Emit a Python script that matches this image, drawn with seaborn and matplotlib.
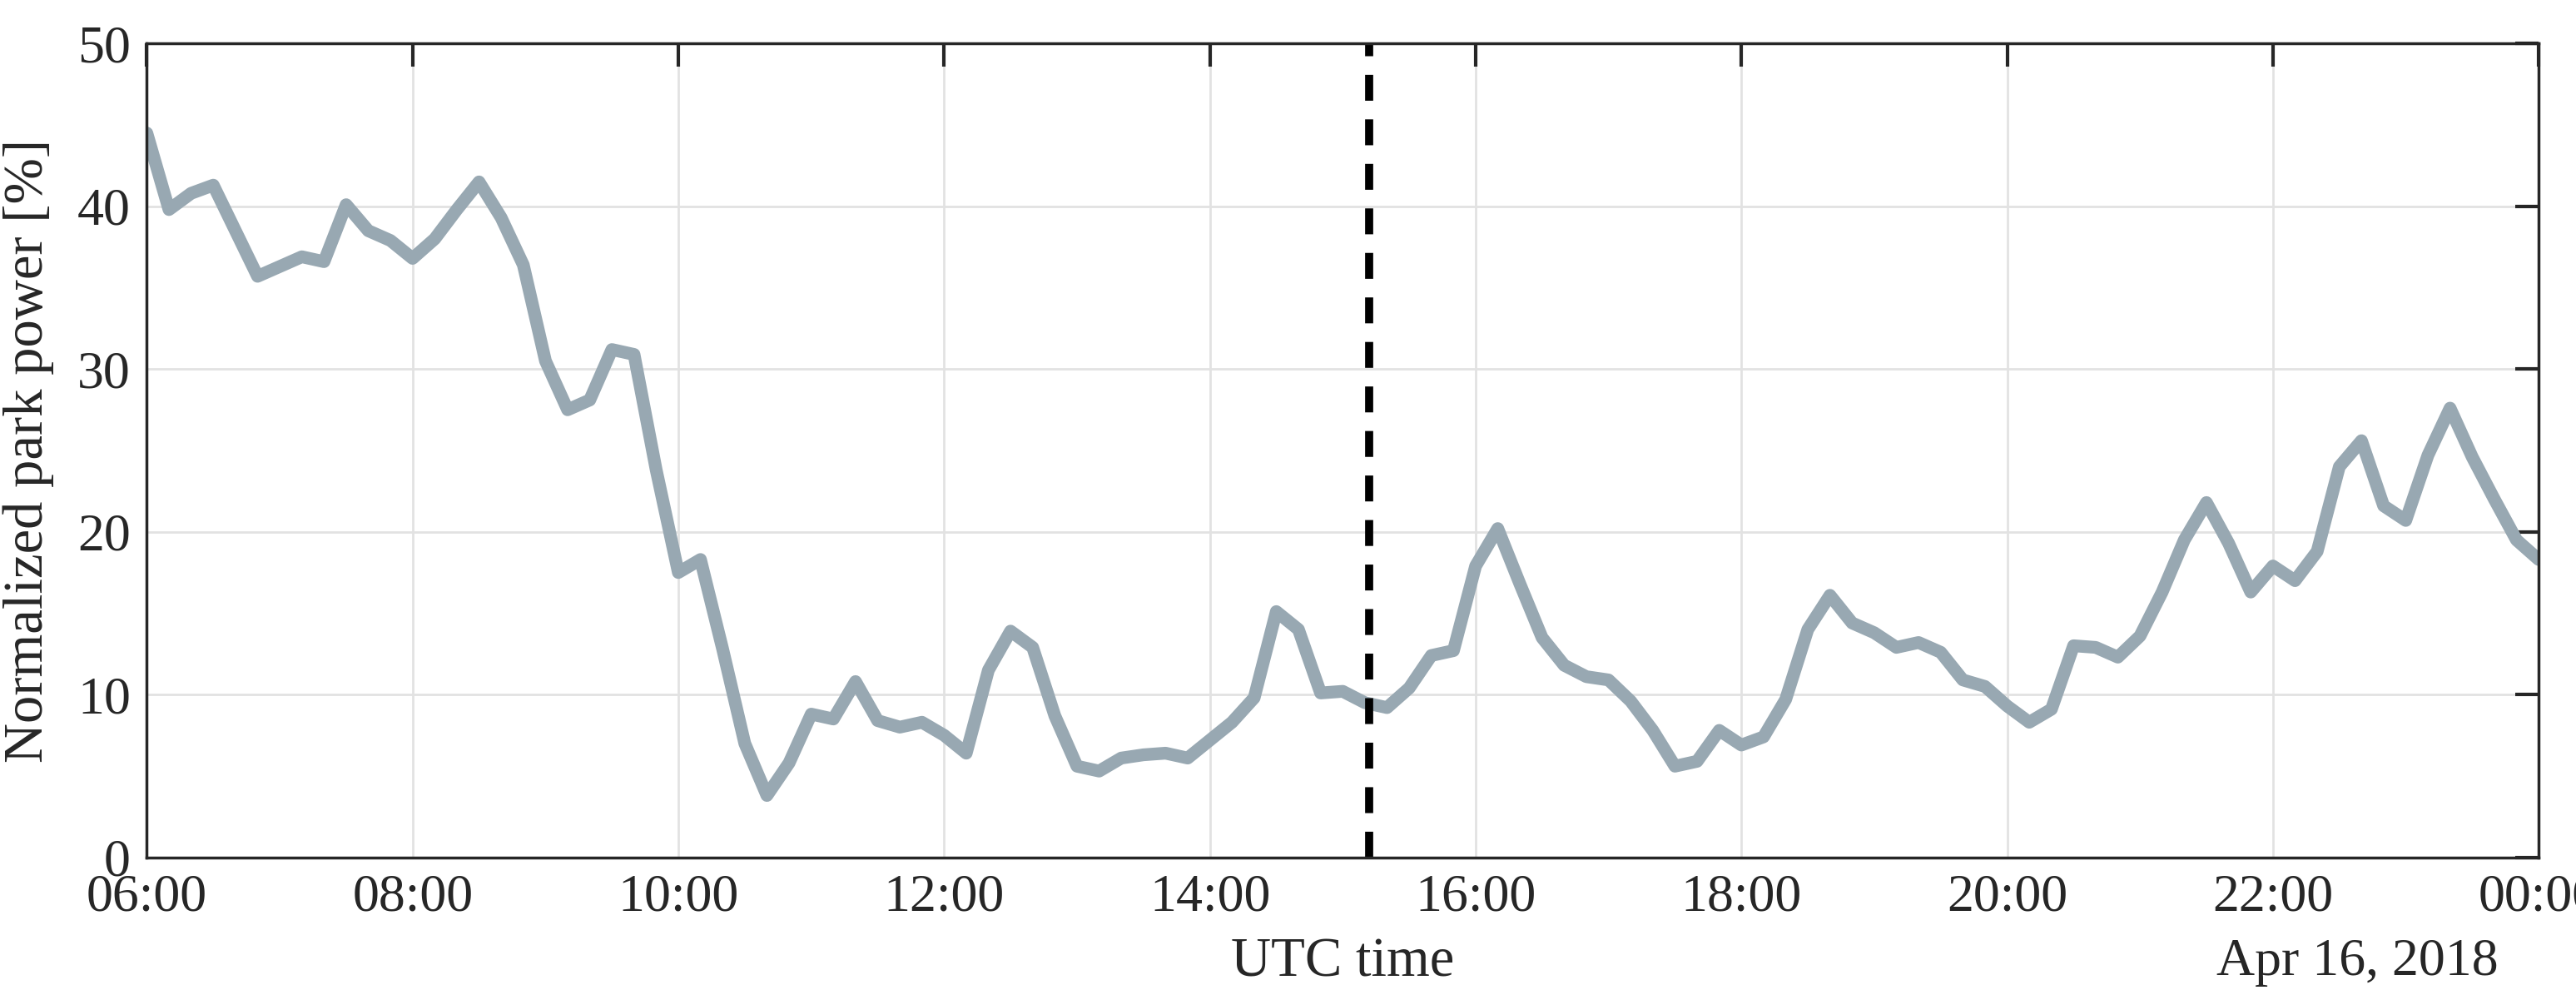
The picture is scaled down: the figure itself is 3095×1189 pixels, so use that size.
import numpy as np
import pandas as pd
import matplotlib
matplotlib.use('Agg')
import matplotlib.pyplot as plt
import matplotlib.dates as mdates
import seaborn as sns

# normalized park power [%], 10-minute samples from 06:00 to 00:00
power = [44.5, 39.8, 40.8, 41.3, 38.5, 35.7, 36.3, 36.9, 36.6, 40.1,
         38.5, 37.9, 36.8, 38.0, 39.8, 41.5, 39.3, 36.4, 30.5, 27.5,
         28.1, 31.2, 30.9, 23.8, 17.5, 18.3, 12.8, 7.0, 3.8, 5.8,
         8.8, 8.5, 10.8, 8.4, 8.0, 8.3, 7.5, 6.4, 11.5, 13.9,
         12.9, 8.7, 5.6, 5.3, 6.1, 6.3, 6.4, 6.1, 7.2, 8.3,
         9.8, 15.1, 14.0, 10.1, 10.2, 9.5, 9.2, 10.4, 12.4, 12.7,
         17.9, 20.2, 16.8, 13.5, 11.8, 11.1, 10.9, 9.6, 7.8, 5.6,
         5.9, 7.8, 6.9, 7.4, 9.7, 14.0, 16.1, 14.4, 13.8, 12.9,
         13.2, 12.6, 10.9, 10.5, 9.3, 8.3, 9.1, 13.0, 12.9, 12.3,
         13.6, 16.3, 19.5, 21.8, 19.3, 16.3, 17.9, 17.0, 18.8, 24.0,
         25.6, 21.6, 20.7, 24.7, 27.6, 24.6, 22.0, 19.5, 18.3]
times = pd.date_range('2018-04-16 06:00', periods=len(power), freq='10min')
event_time = pd.Timestamp('2018-04-16 15:12')

df = pd.DataFrame({'time': times, 'power': power})

sns.set_style('white')
plt.rcParams['font.family'] = ['Liberation Serif', 'DejaVu Serif']

fig = plt.figure(figsize=(30.95, 11.89), dpi=100)
ax = fig.add_axes([0.057, 0.134, 0.9285, 0.822])

sns.lineplot(data=df, x='time', y='power', ax=ax, color='#98a8b2', linewidth=11)
ax.axvline(event_time, color='black', linestyle=(0, (3.2, 2.3)), linewidth=7)

ax.set_xlim(times[0], times[-1])
ax.set_ylim(0, 50)
ax.set_yticks(range(0, 51, 10))
ax.xaxis.set_major_locator(mdates.HourLocator(byhour=range(0, 24, 2)))
ax.xaxis.set_major_formatter(mdates.DateFormatter('%H:%M'))
ax.grid(True, color='#e2e2e2', linewidth=2)
ax.tick_params(direction='in', length=20, width=3, labelsize=46, top=True, right=True, pad=14)
for s in ax.spines.values():
    s.set_linewidth(2.5)
    s.set_color('#262626')

ax.set_xlabel('UTC time', fontsize=48)
ax.xaxis.set_label_coords(0.5, -0.129)
ax.xaxis.label.set_va('center')
ax.set_ylabel('Normalized park power [%]', fontsize=48, labelpad=20)
ax.text(0.983, -0.129, 'Apr 16, 2018', transform=ax.transAxes, ha='right', va='center', fontsize=46)

fig.savefig('out.png', dpi=100)
